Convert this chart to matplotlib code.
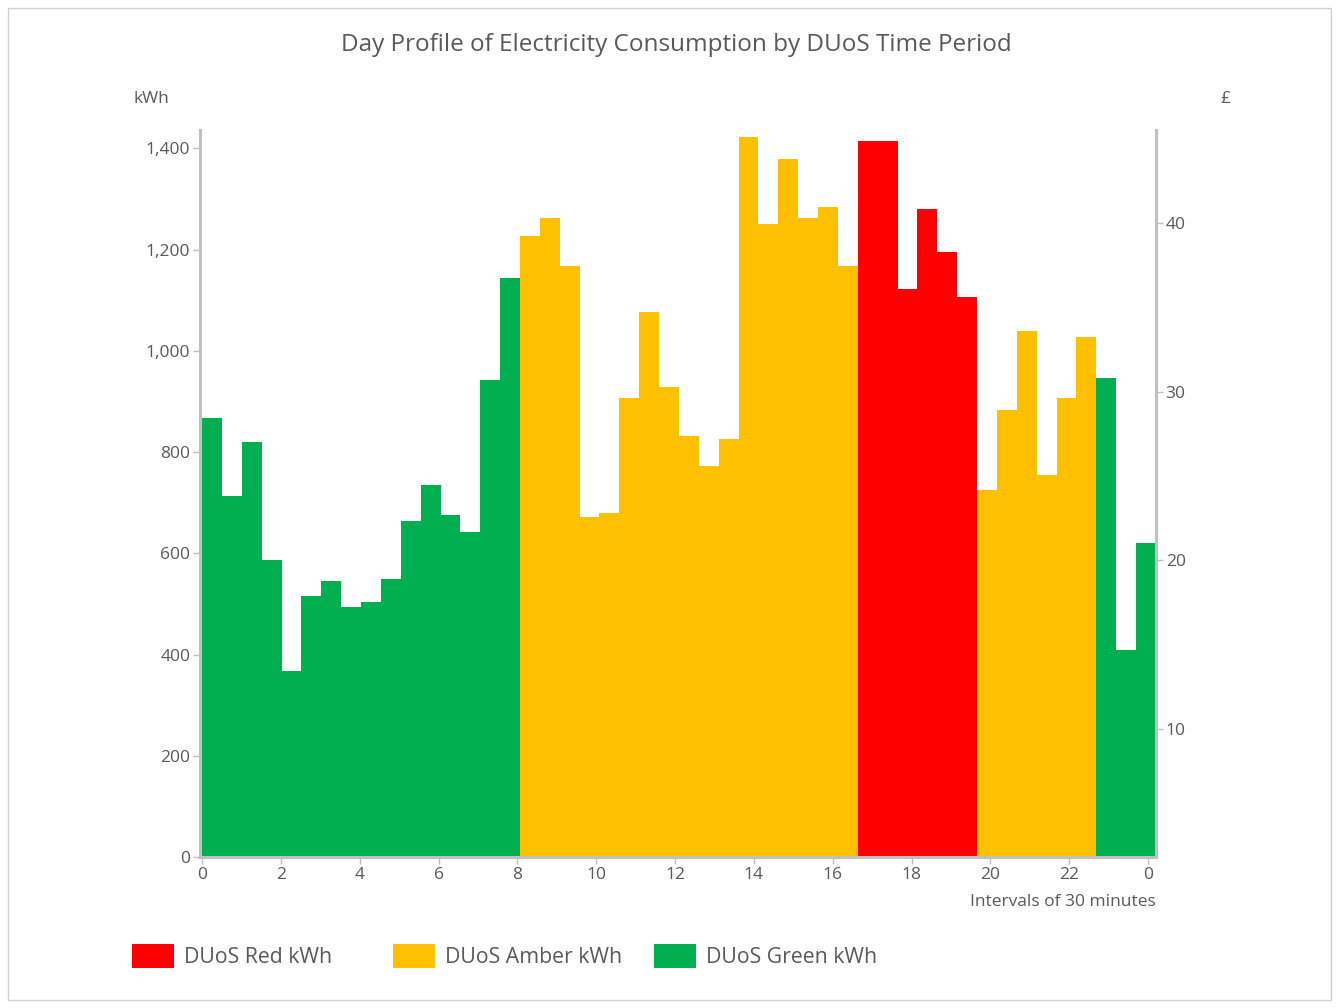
import matplotlib
matplotlib.use("Agg")
import matplotlib.pyplot as plt
from matplotlib.patches import Patch, Rectangle
from matplotlib.ticker import FuncFormatter

# half-hourly consumption, kWh (48 slots)
kwh = [868, 713, 820, 586, 367, 515, 546, 493, 504, 549, 664, 735, 675, 642, 942, 1144,
       1226, 1263, 1167, 672, 679, 906, 1077, 928, 831, 772, 826, 1423, 1251, 1378, 1263, 1284, 1167,
       1415, 1415, 1122, 1281, 1195, 1107,
       725, 883, 1039, 754, 906, 1028,
       946, 409, 620]
band = (["Green"] * 16 + ["Amber"] * 17 + ["Red"] * 6 + ["Amber"] * 6 + ["Green"] * 3)

colors = {"Red": "#ff0000", "Amber": "#ffc000", "Green": "#00b050"}
legend_order = ["Red", "Amber", "Green"]

hour_ticks = list(range(0, 25, 2))
hour_labels = [str(h % 24) for h in hour_ticks]
right_ticks = [10, 20, 30, 40]

plt.rcParams['font.family'] = ['Open Sans', 'DejaVu Sans']
grey_txt = "#595959"
grey_line = "#c0c0c0"

fig = plt.figure(figsize=(13.39, 10.08), dpi=100)
ax = fig.add_axes([0.1494, 0.1498, 0.7139, 0.7212])

# category-style axis: the 48 slots fill the plot slightly wider than the hour ticks
slot = 24.2 / 48
x = [i * slot for i in range(len(kwh))]
for b in legend_order:
    xs = [xi for xi, bb in zip(x, band) if bb == b]
    vs = [v for v, bb in zip(kwh, band) if bb == b]
    ax.bar(xs, vs, width=slot, align="edge", color=colors[b], linewidth=0)

ax.set_xlim(-0.05, 24.2)
ax.set_ylim(0, 1436)
ax.set_xticks(hour_ticks)
ax.set_xticklabels(hour_labels)
ax.set_yticks(range(0, 1401, 200))
ax.yaxis.set_major_formatter(FuncFormatter(lambda v, p: f"{int(v):,}"))

# secondary axis (£), no data
ax2 = ax.twinx()
ax2.set_ylim(2.41, 2.41 + 0.03002 * 1436)
ax2.set_yticks(right_ticks)

for a in (ax, ax2):
    for s in a.spines.values():
        s.set_color(grey_line)
        s.set_linewidth(2.2)
    a.spines["top"].set_visible(False)
    a.tick_params(colors=grey_line, labelcolor=grey_txt, labelsize=12.5, length=5, width=1, pad=2)
ax.spines["right"].set_visible(False)
ax2.spines["left"].set_visible(False)
ax2.spines["bottom"].set_visible(False)

fig.text(0.505, 0.955, "Day Profile of Electricity Consumption by DUoS Time Period",
         ha="center", va="center", fontsize=17.5, color=grey_txt)
fig.text(0.113, 0.902, "kWh", ha="center", va="center", fontsize=12.5, color=grey_txt)
fig.text(0.915, 0.902, "£", ha="center", va="center", fontsize=12.5, color=grey_txt)
fig.text(0.8633, 0.105, "Intervals of 30 minutes", ha="right", va="center",
         fontsize=12.5, color=grey_txt)

# legend: fixed-width columns
for i, b in enumerate(legend_order):
    fig.legend([Patch(facecolor=colors[b], edgecolor="none")], [f"DUoS {b} kWh"],
               loc="center left", bbox_to_anchor=(0.0986 + i * 0.1949, 0.0516),
               frameon=False, fontsize=15.3, handlelength=1.98, handleheight=1.32,
               handletextpad=0.47, borderpad=0, borderaxespad=0, labelcolor=grey_txt)

fig.patches.append(Rectangle((0.006, 0.008), 0.988, 0.984, transform=fig.transFigure,
                             fill=False, edgecolor="#d0d0d0", linewidth=1))

fig.savefig("out.png", dpi=100)
